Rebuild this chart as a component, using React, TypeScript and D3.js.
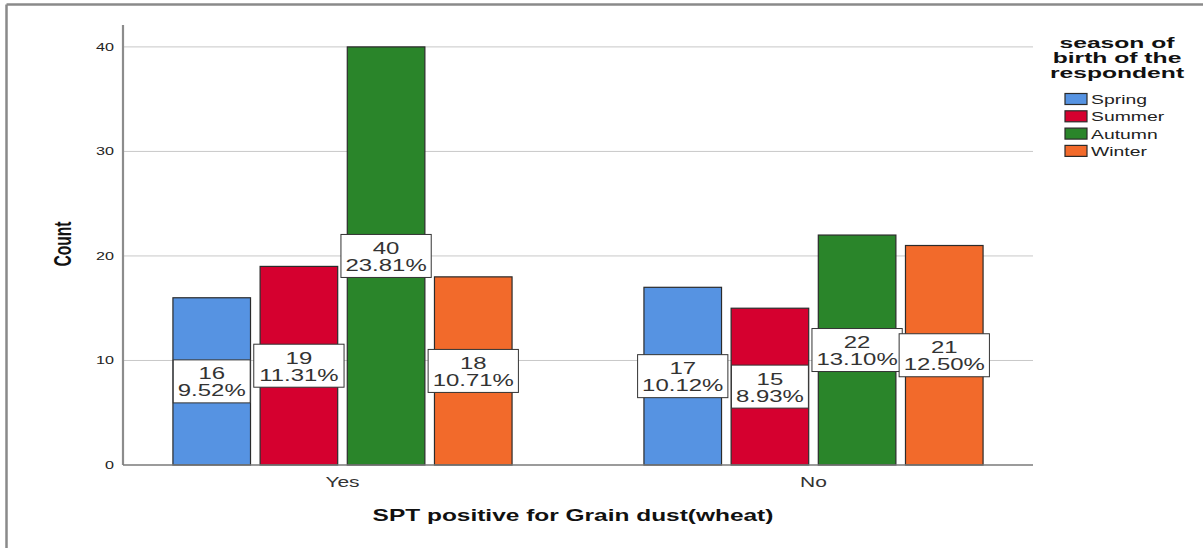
import React from "react";
import * as d3 from "d3";

const categories = ["Yes", "No"];
const seasons = ["Spring", "Summer", "Autumn", "Winter"];
const springCounts = [16, 17];
const summerCounts = [19, 15];
const autumnCounts = [40, 22];
const winterCounts = [18, 21];
const yTicks = [0, 10, 20, 30, 40];
const seasonColors = ["#5693e2", "#d5002f", "#2a852a", "#f26a2b"];
const legendTitle = ["season of", "birth of the", "respondent"];
const xTitle = "SPT positive for Grain dust(wheat)";
const yTitle = "Count";

const W = 1203;
const H = 548;
const FONT = "'Liberation Sans', Arial, sans-serif";

const seriesValues = [springCounts, summerCounts, autumnCounts, winterCounts];
const total = d3.sum(seriesValues.flat());

const charW: Record<string, number> = {
  "0": 0.556, "1": 0.556, "2": 0.556, "3": 0.556, "4": 0.556, "5": 0.556,
  "6": 0.556, "7": 0.556, "8": 0.556, "9": 0.556, ".": 0.278, "%": 0.889,
};
const strW = (s: string) => s.split("").reduce((a, c) => a + (charW[c] ?? 0.556), 0);

export default function App() {
  const plotL = 123;
  const plotR = 1033;
  const plotB = 465;
  const y = d3.scaleLinear().domain([0, 42]).range([plotB, 26]);
  const x0 = d3.scaleBand().domain(categories).range([plotL, plotR]).paddingInner(0.28).paddingOuter(0.106);
  const x1 = d3.scaleBand().domain(seasons).range([0, x0.bandwidth()]).paddingInner(0.11);

  const LFS = 17;
  const LSX = 1.41;

  const bars: any[] = [];
  const labels: any[] = [];
  categories.forEach((cat, ci) => {
    seasons.forEach((s, si) => {
      const v = seriesValues[si][ci];
      const bx = (x0(cat) as number) + (x1(s) as number);
      const bw = x1.bandwidth();
      const top = y(v);
      bars.push(
        <rect key={`b-${cat}-${s}`} x={bx} y={top} width={bw} height={plotB - top}
          fill={seasonColors[si]} stroke="#2b2b2b" strokeWidth={1.2} />
      );
      const pct = ((v / total) * 100).toFixed(2) + "%";
      const l1 = String(v);
      const tw = Math.max(strW(l1), strW(pct)) * LFS * LSX;
      const bwBox = tw + 9;
      const cx = bx + bw / 2;
      const cy = y(v / 2);
      labels.push(
        <g key={`l-${cat}-${s}`}>
          <rect x={cx - bwBox / 2} y={cy - 21.5} width={bwBox} height={43} fill="#fff" stroke="#333" strokeWidth={1} />
          <text transform={`translate(${cx},${cy - 2}) scale(${LSX},1)`} textAnchor="middle" fontSize={LFS} fill="#333" fontFamily={FONT}>{l1}</text>
          <text transform={`translate(${cx},${cy + 15}) scale(${LSX},1)`} textAnchor="middle" fontSize={LFS} fill="#333" fontFamily={FONT}>{pct}</text>
        </g>
      );
    });
  });

  return (
    <svg width={W} height={H} style={{ position: "absolute", left: 0, top: 0, background: "#fff" }}>
      <rect x={0} y={0} width={W} height={H} fill="#fff" />
      {/* frame */}
      <line x1={6.5} y1={4.5} x2={W} y2={4.5} stroke="#8a8a8a" strokeWidth={2.5} />
      <line x1={6.5} y1={4.5} x2={6.5} y2={H} stroke="#8a8a8a" strokeWidth={2.5} />

      {/* gridlines */}
      {yTicks.filter((t) => t > 0).map((t) => (
        <line key={`g${t}`} x1={plotL} x2={plotR} y1={y(t)} y2={y(t)} stroke="#c8c8c8" strokeWidth={1} />
      ))}
      {/* tick labels */}
      {yTicks.map((t) => (
        <text key={`t${t}`} transform={`translate(114,${y(t) + 4}) scale(1.47,1)`} textAnchor="end" fontSize={11} fill="#222" fontFamily={FONT}>{t}</text>
      ))}

      {bars}

      {/* axes */}
      <line x1={plotL} x2={plotL} y1={25} y2={plotB} stroke="#8c8c8c" strokeWidth={2.2} />
      <line x1={plotL} x2={plotR} y1={plotB} y2={plotB} stroke="#7a7a7a" strokeWidth={1.5} />

      {labels}

      {/* x category labels */}
      {categories.map((c) => (
        <text key={`c${c}`} transform={`translate(${(x0(c) as number) + x0.bandwidth() / 2},487) scale(1.5,1)`} textAnchor="middle" fontSize={14} fill="#333" fontFamily={FONT}>{c}</text>
      ))}

      {/* axis titles */}
      <text transform={`translate(573,521) scale(1.53,1)`} textAnchor="middle" fontSize={16} fontWeight="bold" fill="#111" fontFamily={FONT}>{xTitle}</text>
      <text transform={`translate(71,244) scale(1.55,1) rotate(-90)`} textAnchor="middle" fontSize={15.6} fontWeight="bold" fill="#111" fontFamily={FONT}>{yTitle}</text>

      {/* legend */}
      {legendTitle.map((t, i) => (
        <text key={`lt${i}`} transform={`translate(1117,${48 + i * 14.8}) scale(1.7,1)`} textAnchor="middle" fontSize={14.5} fontWeight="bold" fill="#111" fontFamily={FONT}>{t}</text>
      ))}
      {seasons.map((s, i) => (
        <g key={`lg${s}`}>
          <rect x={1065} y={93.5 + i * 17.3} width={22} height={11} fill={seasonColors[i]} stroke="#2b2b2b" strokeWidth={1.2} />
          <text transform={`translate(1091,${104 + i * 17.3}) scale(1.55,1)`} fontSize={12.5} fill="#222" fontFamily={FONT}>{s}</text>
        </g>
      ))}
    </svg>
  );
}
